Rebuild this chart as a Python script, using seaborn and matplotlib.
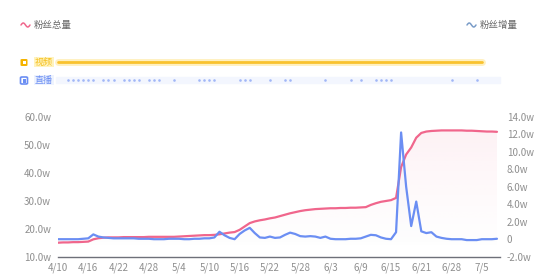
import numpy as np
import pandas as pd
import matplotlib
matplotlib.use("Agg")
import matplotlib.pyplot as plt
import seaborn as sns
from matplotlib.patches import FancyBboxPatch, Rectangle

# ---------------- data ----------------
tick_labels = ['4/10', '4/16', '4/22', '4/28', '5/4', '5/10', '5/16', '5/22',
               '5/28', '6/3', '6/9', '6/15', '6/21', '6/28', '7/5']
tick_pos = [0, 6, 12, 18, 24, 30, 36, 42, 48, 54, 60, 66, 72, 78, 84]

# 粉丝总量 (w), one value per day index 0..87
total_fans = [15.0, 15.1, 15.1, 15.2, 15.2, 15.3, 15.4, 16.2, 16.6, 16.8,
              16.9, 16.9, 16.9, 17.0, 17.0, 17.0, 17.0, 17.0, 17.1, 17.1,
              17.1, 17.1, 17.1, 17.1, 17.2, 17.3, 17.4, 17.5, 17.6, 17.7,
              17.7, 17.8, 18.0, 18.3, 18.6, 18.8, 19.6, 20.8, 22.0, 22.6,
              23.0, 23.3, 23.7, 24.0, 24.5, 25.0, 25.5, 25.9, 26.3, 26.6,
              26.8, 27.0, 27.1, 27.2, 27.3, 27.3, 27.4, 27.4, 27.5, 27.5,
              27.6, 27.7, 28.5, 29.1, 29.6, 29.9, 30.2, 31.0, 42.0, 46.5,
              49.0, 52.5, 54.2, 54.7, 54.9, 55.0, 55.1, 55.1, 55.1, 55.1,
              55.1, 55.0, 55.0, 54.9, 54.8, 54.7, 54.7, 54.6]

# 粉丝增量 (w)
new_fans = [0.0, 0.0, 0.0, 0.0, 0.0, 0.05, 0.1, 0.55, 0.3, 0.2,
            0.15, 0.1, 0.1, 0.1, 0.1, 0.1, 0.05, 0.05, 0.05, 0.0,
            0.0, 0.0, 0.05, 0.05, 0.05, 0.0, 0.0, 0.05, 0.05, 0.1,
            0.1, 0.2, 0.85, 0.45, 0.15, 0.0, 0.6, 1.0, 1.3, 0.7,
            0.2, 0.15, 0.3, 0.15, 0.2, 0.5, 0.75, 0.6, 0.35, 0.3,
            0.35, 0.3, 0.15, 0.3, 0.05, 0.0, 0.0, 0.0, 0.05, 0.05,
            0.1, 0.3, 0.5, 0.45, 0.2, 0.05, 0.0, 0.8, 12.2, 6.0,
            1.5, 4.3, 0.9, 0.7, 0.8, 0.3, 0.15, 0.05, 0.0, 0.0,
            0.0, -0.1, -0.1, -0.1, 0.0, 0.0, 0.0, 0.05]

video_span = [0, 84]
live_days = [2, 3, 4, 5, 6, 7, 9, 10, 11, 13, 14, 15, 16, 18, 19, 20, 23,
             28, 29, 30, 31, 36, 37, 38, 42, 45, 46, 53, 58, 60,
             63, 64, 65, 66, 78, 83]

left_ticks = [10, 20, 30, 40, 50, 60]
right_ticks = [-2, 0, 2, 4, 6, 8, 10, 12, 14]

days = list(range(len(total_fans)))
df = pd.DataFrame({"day": days, "total": total_fans, "new": new_fans})

# ---------------- style ----------------
sns.set_style("white")
plt.rcParams['font.family'] = ['Noto Sans CJK SC', 'DejaVu Sans']

PINK = '#F0668C'
BLUE = '#6B8EF3'
GREY = '#8F8F8F'

W, H = 544, 277
fig = plt.figure(figsize=(W / 100, H / 100), dpi=100)


def fx(px):
    return px / W


def fy(py):
    return 1 - py / H


x_left, x_right = 58, 500
y_top, y_bot = 116.7, 256.7
ax = fig.add_axes([fx(x_left), fy(y_bot), (x_right - x_left) / W, (y_bot - y_top) / H])
ax2 = ax.twinx()

XMAX = 87.6


def gradient_fill(a, x, y, color, alpha_top, y0, y1):
    poly = a.fill_between(x, y, y0, facecolor='none', edgecolor='none')
    path = poly.get_paths()[0]
    rgb = matplotlib.colors.to_rgb(color)
    n = 200
    img = np.zeros((n, 1, 4))
    img[:, 0, :3] = rgb
    img[:, 0, 3] = np.linspace(alpha_top, 0, n) ** 1.3
    im = a.imshow(img, extent=[0, XMAX, y0, y1], aspect='auto', origin='upper', zorder=1)
    im.set_clip_path(path, transform=a.transData)


gradient_fill(ax, df["day"], df["total"], PINK, 0.16, 10, 56)
gradient_fill(ax2, df["day"], df["new"], BLUE, 0.12, -2, 12.5)

sns.lineplot(data=df, x="day", y="total", ax=ax, color=PINK, linewidth=1.6, zorder=3)
sns.lineplot(data=df, x="day", y="new", ax=ax2, color=BLUE, linewidth=1.6, zorder=4)

ax.set_xlim(0, XMAX)
ax.set_ylim(10, 60)
ax2.set_ylim(-2, 14)
ax2.set_xlim(0, XMAX)

for a in (ax, ax2):
    for s in a.spines.values():
        s.set_visible(False)
    a.set_xlabel("")
    a.set_ylabel("")
ax.spines['bottom'].set_visible(True)
ax.spines['bottom'].set_color('#6E7079')
ax.spines['bottom'].set_linewidth(1.0)

ax.set_xticks(tick_pos)
ax.set_xticklabels(tick_labels)
ax.set_yticks(left_ticks)
ax.set_yticklabels([f"{v:.1f}w" for v in left_ticks])
ax2.set_yticks(right_ticks)
ax2.set_yticklabels(["0" if v == 0 else f"{v:.1f}w" for v in right_ticks])
ax.tick_params(axis='x', length=0, pad=4, labelsize=7, labelcolor=GREY)
ax.tick_params(axis='y', length=0, pad=5, labelsize=7, labelcolor=GREY)
ax2.tick_params(axis='y', length=0, pad=5, labelsize=7, labelcolor=GREY)
ax.grid(False)
ax2.grid(False)

# ---------------- event rows ----------------
ev = fig.add_axes([fx(x_left), fy(90), (x_right - x_left) / W, 40 / H])
ev.set_xlim(0, XMAX)
ev.set_ylim(90, 50)
ev.axis('off')

# video row
ev.plot(video_span, [62, 62], color='#FFE58F', linewidth=5, alpha=0.55,
        solid_capstyle='round', clip_on=False)
ev.plot(video_span, [62, 62], color='#F9C22E', linewidth=2.0,
        solid_capstyle='round', clip_on=False)

# live row
ev.add_patch(Rectangle((-0.3, 77), XMAX + 0.3, 6, color='#F3F6FE', zorder=0, clip_on=False))
ev.scatter(live_days, [80] * len(live_days), s=3.5, marker='o', color=BLUE,
           alpha=0.6, linewidths=0, zorder=3, clip_on=False)

# row icons & labels
fig.patches.append(FancyBboxPatch((fx(20.5), fy(66)), 7 / W, 7 / H,
                                  boxstyle="round,pad=0,rounding_size=0.003",
                                  transform=fig.transFigure, facecolor='#F5B300',
                                  edgecolor='none'))
fig.patches.append(Rectangle((fx(22.5), fy(63.5)), 3.5 / W, 2.5 / H,
                             transform=fig.transFigure, facecolor='white', edgecolor='none'))
fig.patches.append(FancyBboxPatch((fx(20.5), fy(84)), 7 / W, 7 / H,
                                  boxstyle="round,pad=0,rounding_size=0.003",
                                  transform=fig.transFigure, facecolor='white',
                                  edgecolor=BLUE, linewidth=1.2))
fig.patches.append(Rectangle((fx(22.5), fy(82.5)), 3 / W, 3 / H,
                             transform=fig.transFigure, facecolor=BLUE, edgecolor='none'))

fig.text(fx(35), fy(62), "视频", fontsize=6.5, color='#F5C020', va='center', ha='left',
         bbox=dict(boxstyle='square,pad=0.1', facecolor='#FFF3BF', edgecolor='none'))
fig.text(fx(35), fy(80), "直播", fontsize=6.5, color=BLUE, va='center', ha='left',
         bbox=dict(boxstyle='square,pad=0.1', facecolor='#EEF3FE', edgecolor='none'))

# ---------------- legend ----------------
def squiggle(x0, y0, color):
    t = np.linspace(0, 1, 30)
    xs = x0 + t * 9
    ys = y0 - 2.0 * np.sin(t * 2 * np.pi)
    fig.add_artist(matplotlib.lines.Line2D(fx(xs), fy(ys), color=color, linewidth=1.1,
                                           transform=fig.transFigure))


squiggle(21, 25, PINK)
fig.text(fx(34), fy(25), "粉丝总量", fontsize=6.8, color='#666666', va='center', ha='left')
squiggle(467, 25, '#7A9CC8')
fig.text(fx(480), fy(25), "粉丝增量", fontsize=6.8, color='#666666', va='center', ha='left')

fig.savefig("out.png", dpi=100)
